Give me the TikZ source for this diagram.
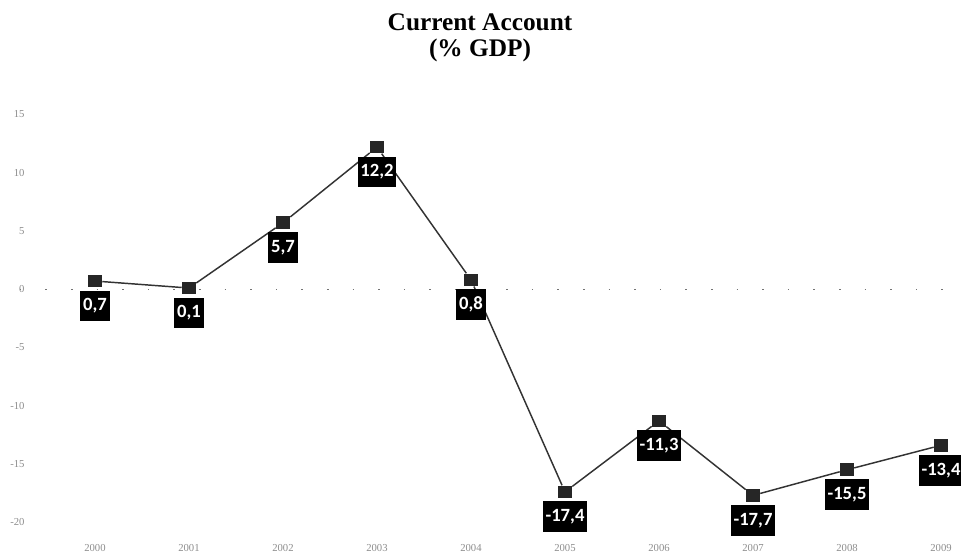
\documentclass[tikz,border=0pt]{standalone}
\usepackage{fontspec}
\setmainfont{Liberation Serif}
\newfontfamily\labelfont{Carlito}
\usetikzlibrary{positioning}

\begin{document}
\begin{tikzpicture}[x=70.5pt,y=8.7375pt,node distance=2pt,
  markbox/.style={fill=black!85,minimum width=10.5pt,minimum height=9.5pt,inner sep=0pt},
  valuebox/.style={fill=black,text=white,font=\labelfont\bfseries\fontsize{14}{14}\selectfont,
    inner xsep=2pt,inner ysep=0pt,minimum height=23pt},
  ticklabel/.style={text=black!45,font=\fontsize{8}{8}\selectfont}]

 \useasboundingbox (-1.0106,-22.987) rectangle (9.2128,24.824);

 \node[font=\bfseries\fontsize{19}{19}\selectfont] (title) at (4.096,22.94) {Current Account};
 \node[font=\bfseries\fontsize{19}{19}\selectfont] (unit) at (4.096,20.53) {(\% GDP)};

 % zero line and axis labels
 \draw[black!55,dash pattern=on 1.2pt off 18pt] (-0.8,0) -- (9.25,0);
 \foreach \v in {15,10,...,-20}
  \node[ticklabel,anchor=east] at (-0.7,\v) {\v};
 \foreach \yr [count=\i from 0] in {2000,...,2009}
  \node[ticklabel] at (\i,-22.2) {\yr};

 % data points
 \node[markbox] (m_0) at (0,0.7) {};
 \node[markbox] (m_1) at (1,0.1) {};
 \node[markbox] (m_2) at (2,5.7) {};
 \node[markbox] (m_3) at (3,12.2) {};
 \node[markbox] (m_4) at (4,0.8) {};
 \node[markbox] (m_5) at (5,-17.4) {};
 \node[markbox] (m_6) at (6,-11.3) {};
 \node[markbox] (m_7) at (7,-17.7) {};
 \node[markbox] (m_8) at (8,-15.5) {};
 \node[markbox] (m_9) at (9,-13.4) {};

 \draw[line width=1.1pt,black!80]
  (m_0) -- (m_1) -- (m_2) -- (m_3) -- (m_4) -- (m_5) -- (m_6) -- (m_7) -- (m_8) -- (m_9);

 % value labels
 \node[valuebox] (v_0) [below=of m_0] {0,7};
 \node[valuebox] (v_1) [below=of m_1] {0,1};
 \node[valuebox] (v_2) [below=of m_2] {5,7};
 \node[valuebox] (v_3) [below=of m_3] {12,2};
 \node[valuebox] (v_4) [below=of m_4] {0,8};
 \node[valuebox] (v_5) [below=of m_5] {-17,4};
 \node[valuebox] (v_6) [below=of m_6] {-11,3};
 \node[valuebox] (v_7) [below=of m_7] {-17,7};
 \node[valuebox] (v_8) [below=of m_8] {-15,5};
 \node[valuebox] (v_9) [below=of m_9] {-13,4};
\end{tikzpicture}
\end{document}
